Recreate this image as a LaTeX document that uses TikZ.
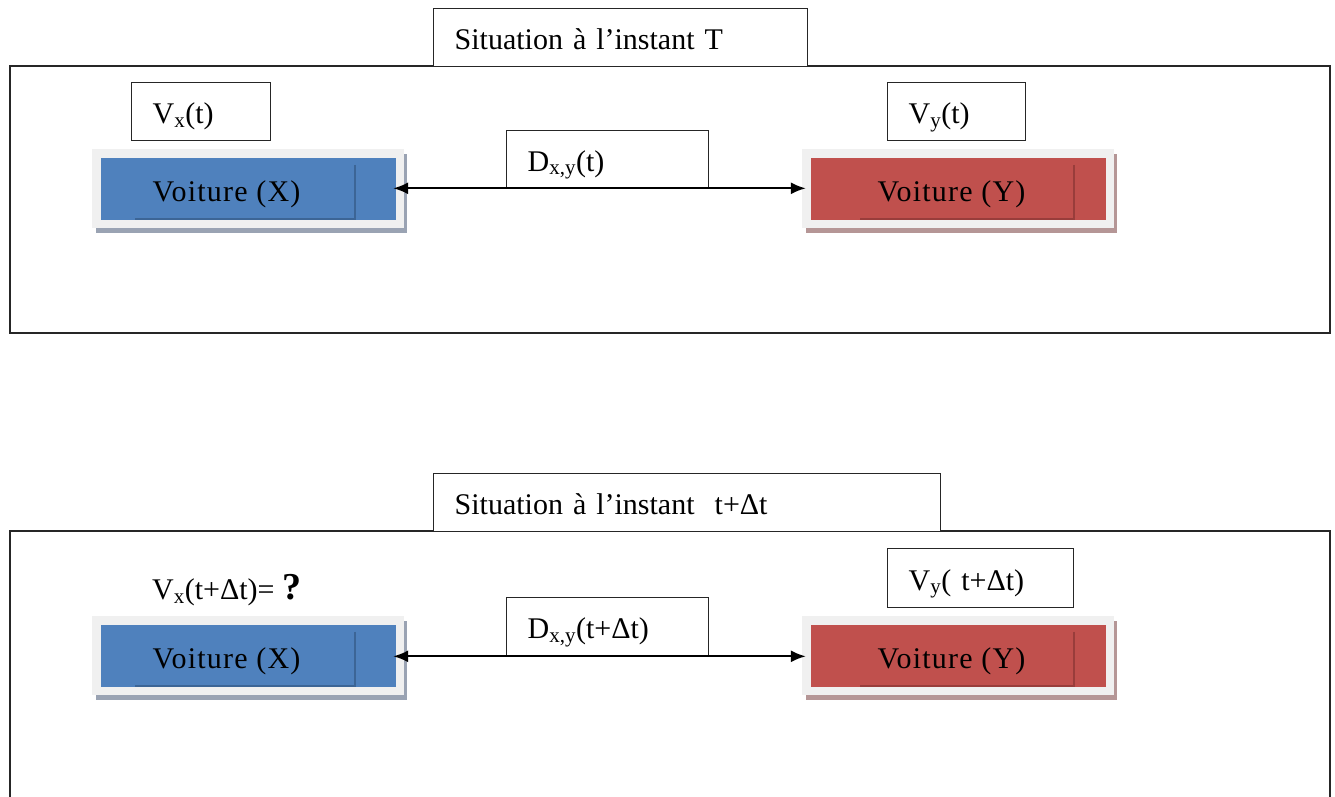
\documentclass[tikz,border=0pt]{standalone}
\usepackage{fontspec}
\setmainfont{Liberation Serif}
\newfontfamily\carfont[LetterSpace=4]{Liberation Serif}
\usetikzlibrary{arrows.meta}
\definecolor{framegray}{HTML}{F0F0F0}
\definecolor{blfill}{HTML}{4F81BD}
\definecolor{bldark}{HTML}{3C6596}
\definecolor{blshade}{HTML}{9AA3B3}
\definecolor{rdfill}{HTML}{C0504D}
\definecolor{rddark}{HTML}{993D3B}
\definecolor{rdshade}{HTML}{B59696}
\tikzset{
  tbox/.style={draw=black!85, line width=1.3pt, fill=white, anchor=north west,
    inner xsep=21pt, inner ysep=0pt, align=left, text height=27pt, text depth=3pt},
  frame/.style={draw=black!85, line width=1.3pt},
  carbox/.style={rectangle, inner sep=0pt, minimum width=295pt, minimum height=62pt},
  cartext/.style={inner sep=0pt, text height=27pt, text depth=3pt,
    font=\carfont\fontsize{30}{35}\selectfont},
  link/.style={line width=2pt, {Latex[length=15pt,width=12pt]}-{Latex[length=15pt,width=12pt]}},
}
% car block: #1 name, #2/#3 centre, #4 colour prefix, #5 text,
% #6 inner line offset from east, #7 inner line start from west, #8 text shift
\newcommand\carblock[8]{%
  \fill[#4shade] (#2-152.5,#3-35) rectangle (#2+158.5,#3+44);
  \fill[framegray] (#2-156.5,#3-40) rectangle (#2+155.5,#3+39);
  \node[carbox, fill=#4fill] (#1) at (#2,#3) {};
  \draw[#4dark, line width=2pt]
    ([xshift=-#6pt, yshift=-7pt]#1.north east) --
    ([xshift=-#6pt, yshift=1pt]#1.south east) --
    ([xshift=#7pt, yshift=1pt]#1.south west);
  \node[cartext] (#1-t) at ([xshift=#8pt]#1.center) {#5};
}
\begin{document}
\begin{tikzpicture}[x=1pt, y=-1pt, font=\fontsize{30}{35}\selectfont]
\useasboundingbox (0,0) rectangle (1335,796);

% ---- situation at instant T ----
\draw[frame] (10,66) rectangle (1330,333);
\node[tbox, text width=332pt, minimum height=58pt] (title1) at (433,8) {Situation à l’instant T};
\node[tbox, text width=97pt, minimum height=58pt] (vx1) at (131,82) {V\textsubscript{x}(t)};
\node[tbox, text width=96pt, minimum height=58pt] (vy1) at (887,82) {V\textsubscript{y}(t)};
\carblock{cx1}{248.5}{189}{bl}{Voiture (X)}{41}{34}{-22}
\carblock{cy1}{958.5}{189}{rd}{Voiture (Y)}{32}{49}{-7}
\node[tbox, text width=160pt, minimum height=57pt] (d1) at (506,130) {D\textsubscript{x,y}(t)};
\draw[link, shorten <=-3pt, shorten >=5pt] (cx1.east |- d1.south) -- (cy1.west |- d1.south);

% ---- situation at instant t+Δt ----
\draw[frame] (10,800) -- (10,531) -- (1330,531) -- (1330,800);
\node[tbox, text width=465pt, minimum height=58pt] (title2) at (433,473) {Situation à l’instant \ t+Δt};
\node[anchor=west, inner sep=0pt] (vx2) at (152,590) {V\textsubscript{x}(t+Δt)= {\bfseries\fontsize{38}{40}\selectfont ?}};
\node[tbox, text width=144pt, minimum height=59pt] (vy2) at (887,548) {V\textsubscript{y}( t+Δt)};
\carblock{cx2}{248.5}{656}{bl}{Voiture (X)}{41}{34}{-22}
\carblock{cy2}{958.5}{656}{rd}{Voiture (Y)}{32}{49}{-7}
\node[tbox, text width=160pt, minimum height=58pt] (d2) at (506,597) {D\textsubscript{x,y}(t+Δt)};
\draw[link, shorten <=-3pt, shorten >=5pt] (cx2.east |- d2.south) -- (cy2.west |- d2.south);
\end{tikzpicture}
\end{document}
